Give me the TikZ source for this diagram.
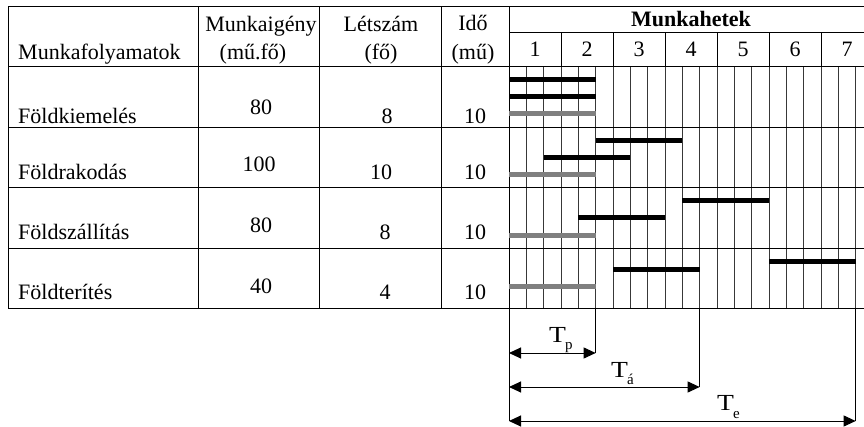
\documentclass[tikz,border=0pt]{standalone}
\usepackage{fontspec}
\setmainfont{Liberation Serif}
\usetikzlibrary{arrows.meta}
\begin{document}
\begin{tikzpicture}[x=1pt,y=-1pt,
  rule/.style={line width=1pt, draw=black},
  grid/.style={line width=1pt, draw=black!78},
  txt/.style={font=\fontsize{22}{26}\selectfont, inner sep=0pt, anchor=base},
  ltxt/.style={txt, anchor=base west},
  btxt/.style={txt, font=\fontsize{22}{26}\selectfont\bfseries},
  bar/.style={line width=5pt, draw=black},
  gbar/.style={line width=5pt, draw=black!50},
  dimarrow/.style={line width=1pt, {Triangle[length=12pt,width=11pt]}-{Triangle[length=12pt,width=11pt]}},
  lbl/.style={font=\fontsize{23}{26}\selectfont, inner sep=0pt, anchor=base west},
]
\useasboundingbox (0,0) rectangle (864,427);
\begin{scope}
\clip (0,0) rectangle (864,427);
% ---- chart sub-column grid lines
\foreach \k in {1,...,21}
  \draw[grid] ({509+\k*52/3},67) -- ({509+\k*52/3},309);
% ---- week boundaries in the header row
\foreach \w in {1,...,7}
  \draw[rule] ({509+\w*52},33) -- ({509+\w*52},67);
% ---- horizontal rules
\draw[rule] (8,7) -- (873,7);
\draw[rule] (509,33) -- (873,33);
\draw[rule] (8,67) -- (873,67);
\foreach \y in {128,188,249,309}
  \draw[rule] (8,\y) -- (873,\y);
% ---- vertical rules of the table
\draw[rule] (8,7) -- (8,309);
\draw[rule] (198,7) -- (198,309);
\draw[rule] (319,7) -- (319,309);
\draw[rule] (441,7) -- (441,309);
\draw[rule] (509,7) -- (509,309);

% ---- header texts
\node[ltxt] (hmf) at (18,60) {Munkafolyamatok};
\node[txt] (hmi1) at (261,32) {Munkaigény};
\node[txt] (hmi2) at (253,60) {(mű.fő)};
\node[txt] (hl1) at (381,32) {Létszám};
\node[txt] (hl2) at (381,60) {(fő)};
\node[txt] (hi1) at (473,31) {Idő};
\node[txt] (hi2) at (473,60) {(mű)};
\node[btxt] (hmh) at (691,27) {Munkahetek};
\foreach \w in {1,...,7}
  \node[txt] (wk\w) at ({509+26+(\w-1)*52},57) {\w};

% ---- rows
\node[ltxt] (r1n) at (18,124) {Földkiemelés};
\node[txt] (r1a) at (261,115) {80};
\node[txt] (r1b) at (387,124) {8};
\node[txt] (r1c) at (475,124) {10};

\node[ltxt] (r2n) at (18,180) {Földrakodás};
\node[txt] (r2a) at (259,172) {100};
\node[txt] (r2b) at (381,180) {10};
\node[txt] (r2c) at (475,180) {10};

\node[ltxt] (r3n) at (18,240) {Földszállítás};
\node[txt] (r3a) at (261,233) {80};
\node[txt] (r3b) at (385,240) {8};
\node[txt] (r3c) at (475,240) {10};

\node[ltxt] (r4n) at (18,300) {Földterítés};
\node[txt] (r4a) at (261,294) {40};
\node[txt] (r4b) at (385,300) {4};
\node[txt] (r4c) at (475,300) {10};

% ---- bars (sub-column index k: x = 509 + k*52/3)
% row 1
\draw[bar]  (509,80) -- ({509+5*52/3},80);
\draw[bar]  (509,97) -- ({509+5*52/3},97);
\draw[gbar] (509,114) -- ({509+5*52/3},114);
% row 2
\draw[bar]  ({509+5*52/3},141) -- ({509+10*52/3},141);
\draw[bar]  ({509+2*52/3},158) -- ({509+7*52/3},158);
\draw[gbar] (509,175) -- ({509+5*52/3},175);
% row 3
\draw[bar]  ({509+10*52/3},201) -- ({509+15*52/3},201);
\draw[bar]  ({509+4*52/3},218) -- ({509+9*52/3},218);
\draw[gbar] (509,236) -- ({509+5*52/3},236);
% row 4
\draw[bar]  ({509+15*52/3},262) -- ({509+20*52/3},262);
\draw[bar]  ({509+6*52/3},270) -- ({509+11*52/3},270);
\draw[gbar] (509,287) -- ({509+5*52/3},287);

% ---- dimension lines
\coordinate (o1) at (509,353);
\coordinate (o2) at (509,387);
\coordinate (o3) at (509,421);
\coordinate (p1) at ({509+5*52/3},353);
\coordinate (p2) at ({509+11*52/3},387);
\coordinate (p3) at ({509+20*52/3},421);
\draw[rule] (509,309) -- (o3);
\draw[rule] ({509+5*52/3},309) -- (p1);
\draw[rule] ({509+11*52/3},309) -- (p2);
\draw[rule] ({509+20*52/3},309) -- (p3);
\draw[dimarrow] (o1) -- (p1);
\draw[dimarrow] (o2) -- (p2);
\draw[dimarrow] (o3) -- (p3);
\node[lbl] (tp) at (549,342) {\scalebox{1.2}[1]{T}\kern-1pt\raisebox{-7pt}{\fontsize{15}{15}\selectfont p}};
\node[lbl] (ta) at (611,377) {\scalebox{1.2}[1]{T}\kern-1pt\raisebox{-7pt}{\fontsize{15}{15}\selectfont á}};
\node[lbl] (te) at (717,410) {\scalebox{1.2}[1]{T}\kern-1pt\raisebox{-8pt}{\fontsize{15}{15}\selectfont e}};
\end{scope}
\end{tikzpicture}
\end{document}
